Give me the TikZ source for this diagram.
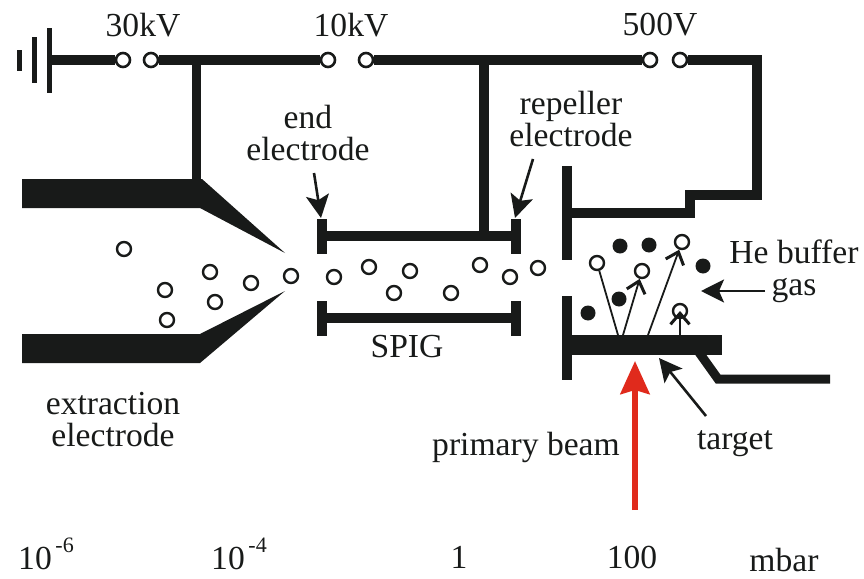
\documentclass[tikz,border=0pt]{standalone}
\usepackage{fontspec}
\setmainfont{Liberation Serif}
\usetikzlibrary{arrows.meta,positioning}
\definecolor{ink}{RGB}{24,26,25}
\definecolor{beamred}{RGB}{224,42,28}
\tikzset{
  txt/.style   ={font=\fontsize{33.6}{32}\selectfont,text=ink,align=center,inner sep=0pt},
  plate/.style ={rectangle,fill=ink,inner sep=0pt,minimum width=10pt},
  gplate/.style={rectangle,fill=ink,inner sep=0pt,minimum width=5pt},
  wire/.style  ={draw=ink,line width=10pt,line join=miter},
  term/.style  ={circle,draw=ink,fill=white,line width=2.6pt,minimum size=14pt,inner sep=0pt},
  ion/.style   ={circle,draw=ink,fill=white,line width=2.4pt,minimum size=14pt,inner sep=0pt},
  gasat/.style ={circle,fill=ink,minimum size=15pt,inner sep=0pt},
  solid/.style ={fill=ink},
  trk/.style   ={draw=ink,line width=1.8pt},
  trka/.style  ={trk,-{Straight Barb[length=11pt,width=19pt,line width=3pt]}},
  ptr/.style   ={draw=ink,line width=2.6pt,-{Stealth[length=23pt,width=23pt,inset=5pt]}},
  pwr/.style   ={txt,anchor=base west},
}
\newcommand{\expo}[1]{\raisebox{17pt}{\fontsize{22}{22}\selectfont\,#1}}
\begin{document}
\begin{tikzpicture}[x=1pt,y=-1pt]
  \useasboundingbox (0,0) rectangle (864,578);
  % top rail
  \node[gplate,minimum height=21pt] (gnda) at (19.5,60.5) {};
  \node[gplate,minimum height=46pt] (gndb) at (34.5,60) {};
  \node[plate,minimum width=5pt,minimum height=65pt] (gndc) at (49.5,60.5) {};
  \coordinate (rail0) at (52,60);
  \node[term] (sw1a) at (123,60) {};
  \node[term] (sw1b) at (151,60) {};
  \node[term] (sw2a) at (328,60) {};
  \node[term] (sw2b) at (366,60) {};
  \node[term] (sw3a) at (650,60) {};
  \node[term] (sw3b) at (680,60) {};
  \node[txt] (v30)  at (143,25) {30kV};
  \node[txt] (v10)  at (351,25) {10kV};
  \node[txt] (v500) at (660,25) {500V};
  \coordinate (tap1) at (196,60);
  \coordinate (tap2) at (484,60);
  \coordinate (cnr)  at (757,60);
  % extraction electrode
  \fill[solid] (22,179) -- (202,179) -- (285,253) -- (200,208) -- (22,208) -- cycle;
  \fill[solid] (22,334) -- (200,334) -- (285,291) -- (200,363) -- (22,363) -- cycle;
  \coordinate (exttop) at (196,180);
  % SPIG
  \node[plate,minimum height=35pt] (spl1) at (321.5,236) {};
  \node[plate,minimum height=35pt] (spr1) at (516,236) {};
  \node[plate,minimum height=35pt] (spl2) at (321.5,318) {};
  \node[plate,minimum height=35pt] (spr2) at (516,318) {};
  \coordinate (rodtop) at (484,236);
  % repeller and target
  \node[plate,minimum height=94pt] (rep1) at (567,213) {};
  \node[plate,minimum height=84pt] (rep2) at (567,338) {};
  \node[plate,minimum width=150pt,minimum height=20pt] (tgt) at (647,345) {};
  \coordinate (st1) at (690,213);
  \coordinate (st2) at (690,195);
  \coordinate (st3) at (757,195);
  \coordinate (ft1) at (698,351);
  \coordinate (ft2) at (718,379);
  \coordinate (ft3) at (830,379);
  % wires
  \draw[wire] (rail0) -- (sw1a);
  \draw[wire] (sw1b) -- (sw2a);
  \draw[wire] (sw2b) -- (sw3a);
  \draw[wire] (sw3b) -- (cnr) -- (st3) -- (st2) -- (st1) -- (rep1);
  \draw[wire,line width=9pt] (tap1) -- (exttop);
  \draw[wire] (tap2) -- (rodtop);
  \draw[wire] (spl1) -- (spr1);
  \draw[wire] (spl2) -- (spr2);
  \draw[wire,line width=9pt] (ft1) -- (ft2) -- (ft3);
  % ions
  \node[ion] (i1)  at (124,249) {};
  \node[ion] (i2)  at (165,290) {};
  \node[ion] (i3)  at (167,320) {};
  \node[ion] (i4)  at (210,272) {};
  \node[ion] (i5)  at (215,302) {};
  \node[ion] (i6)  at (251,283) {};
  \node[ion] (i7)  at (291,276) {};
  \node[ion] (i8)  at (334,277) {};
  \node[ion] (i9)  at (369,267) {};
  \node[ion] (i10) at (410,271) {};
  \node[ion] (i11) at (394,293) {};
  \node[ion] (i12) at (451,293) {};
  \node[ion] (i13) at (480,265) {};
  \node[ion] (i14) at (510,277) {};
  \node[ion] (i15) at (538,268) {};
  % buffer gas
  \node[gasat] (g1) at (620,246) {};
  \node[gasat] (g2) at (649,245) {};
  \node[gasat] (g3) at (703,266) {};
  \node[gasat] (g4) at (619,299) {};
  \node[gasat] (g5) at (588,313) {};
  % recoils
  \node[ion] (r1) at (597,263) {};
  \node[ion] (r2) at (642,271) {};
  \node[ion] (r3) at (682,242) {};
  \node[ion] (r4) at (680,311) {};
  \coordinate (h1) at (618,335);
  \coordinate (h2) at (623,335);
  \coordinate (h3) at (648,335);
  \coordinate (h4) at (680,335);
  \draw[trk]  (h1) -- (r1);
  \draw[trka] (h2) -- (r2);
  \draw[trka] (h3) -- (r3);
  \draw[trka] (h4) -- (r4.center);
  % labels
  \node[txt] (endl)  at (308,133) {end\\electrode};
  \node[txt] (repl)  at (571,119) {repeller\\electrode};
  \node[txt] (hel)   at (794,271) {He buffer\\gas};
  \node[txt] (spig)  at (407,347) {SPIG};
  \node[txt] (extl)  at (113,420) {extraction\\electrode};
  \node[txt] (beaml) at (526,447) {primary beam};
  \node[txt] (tgtl)  at (735,444) {target};
  \node[pwr] (p1) at (18,569) {10\expo{-6}};
  \node[pwr] (p2) at (211,569) {10\expo{-4}};
  \node[txt] (p3) at (459,557) {1};
  \node[txt] (p4) at (632,557) {100};
  \node[txt] (p5) at (784,560) {mbar};
  % pointers
  \coordinate (pa) at (314,173);
  \coordinate (pb) at (321,218);
  \coordinate (pc) at (533,159);
  \coordinate (pd) at (515,218);
  \coordinate (pe) at (765,291);
  \coordinate (pf) at (701,291);
  \coordinate (pg) at (706,416);
  \coordinate (ph) at (659,358);
  \coordinate (ba) at (635,510);
  \coordinate (bb) at (635,361);
  \draw[ptr] (pa) -- (pb);
  \draw[ptr] (pc) -- (pd);
  \draw[ptr] (pe) -- (pf);
  \draw[ptr] (pg) -- (ph);
  \draw[draw=beamred,line width=6pt,-{Stealth[length=33pt,width=29pt,inset=4pt,fill=beamred]}] (ba) -- (bb);
\end{tikzpicture}
\end{document}
